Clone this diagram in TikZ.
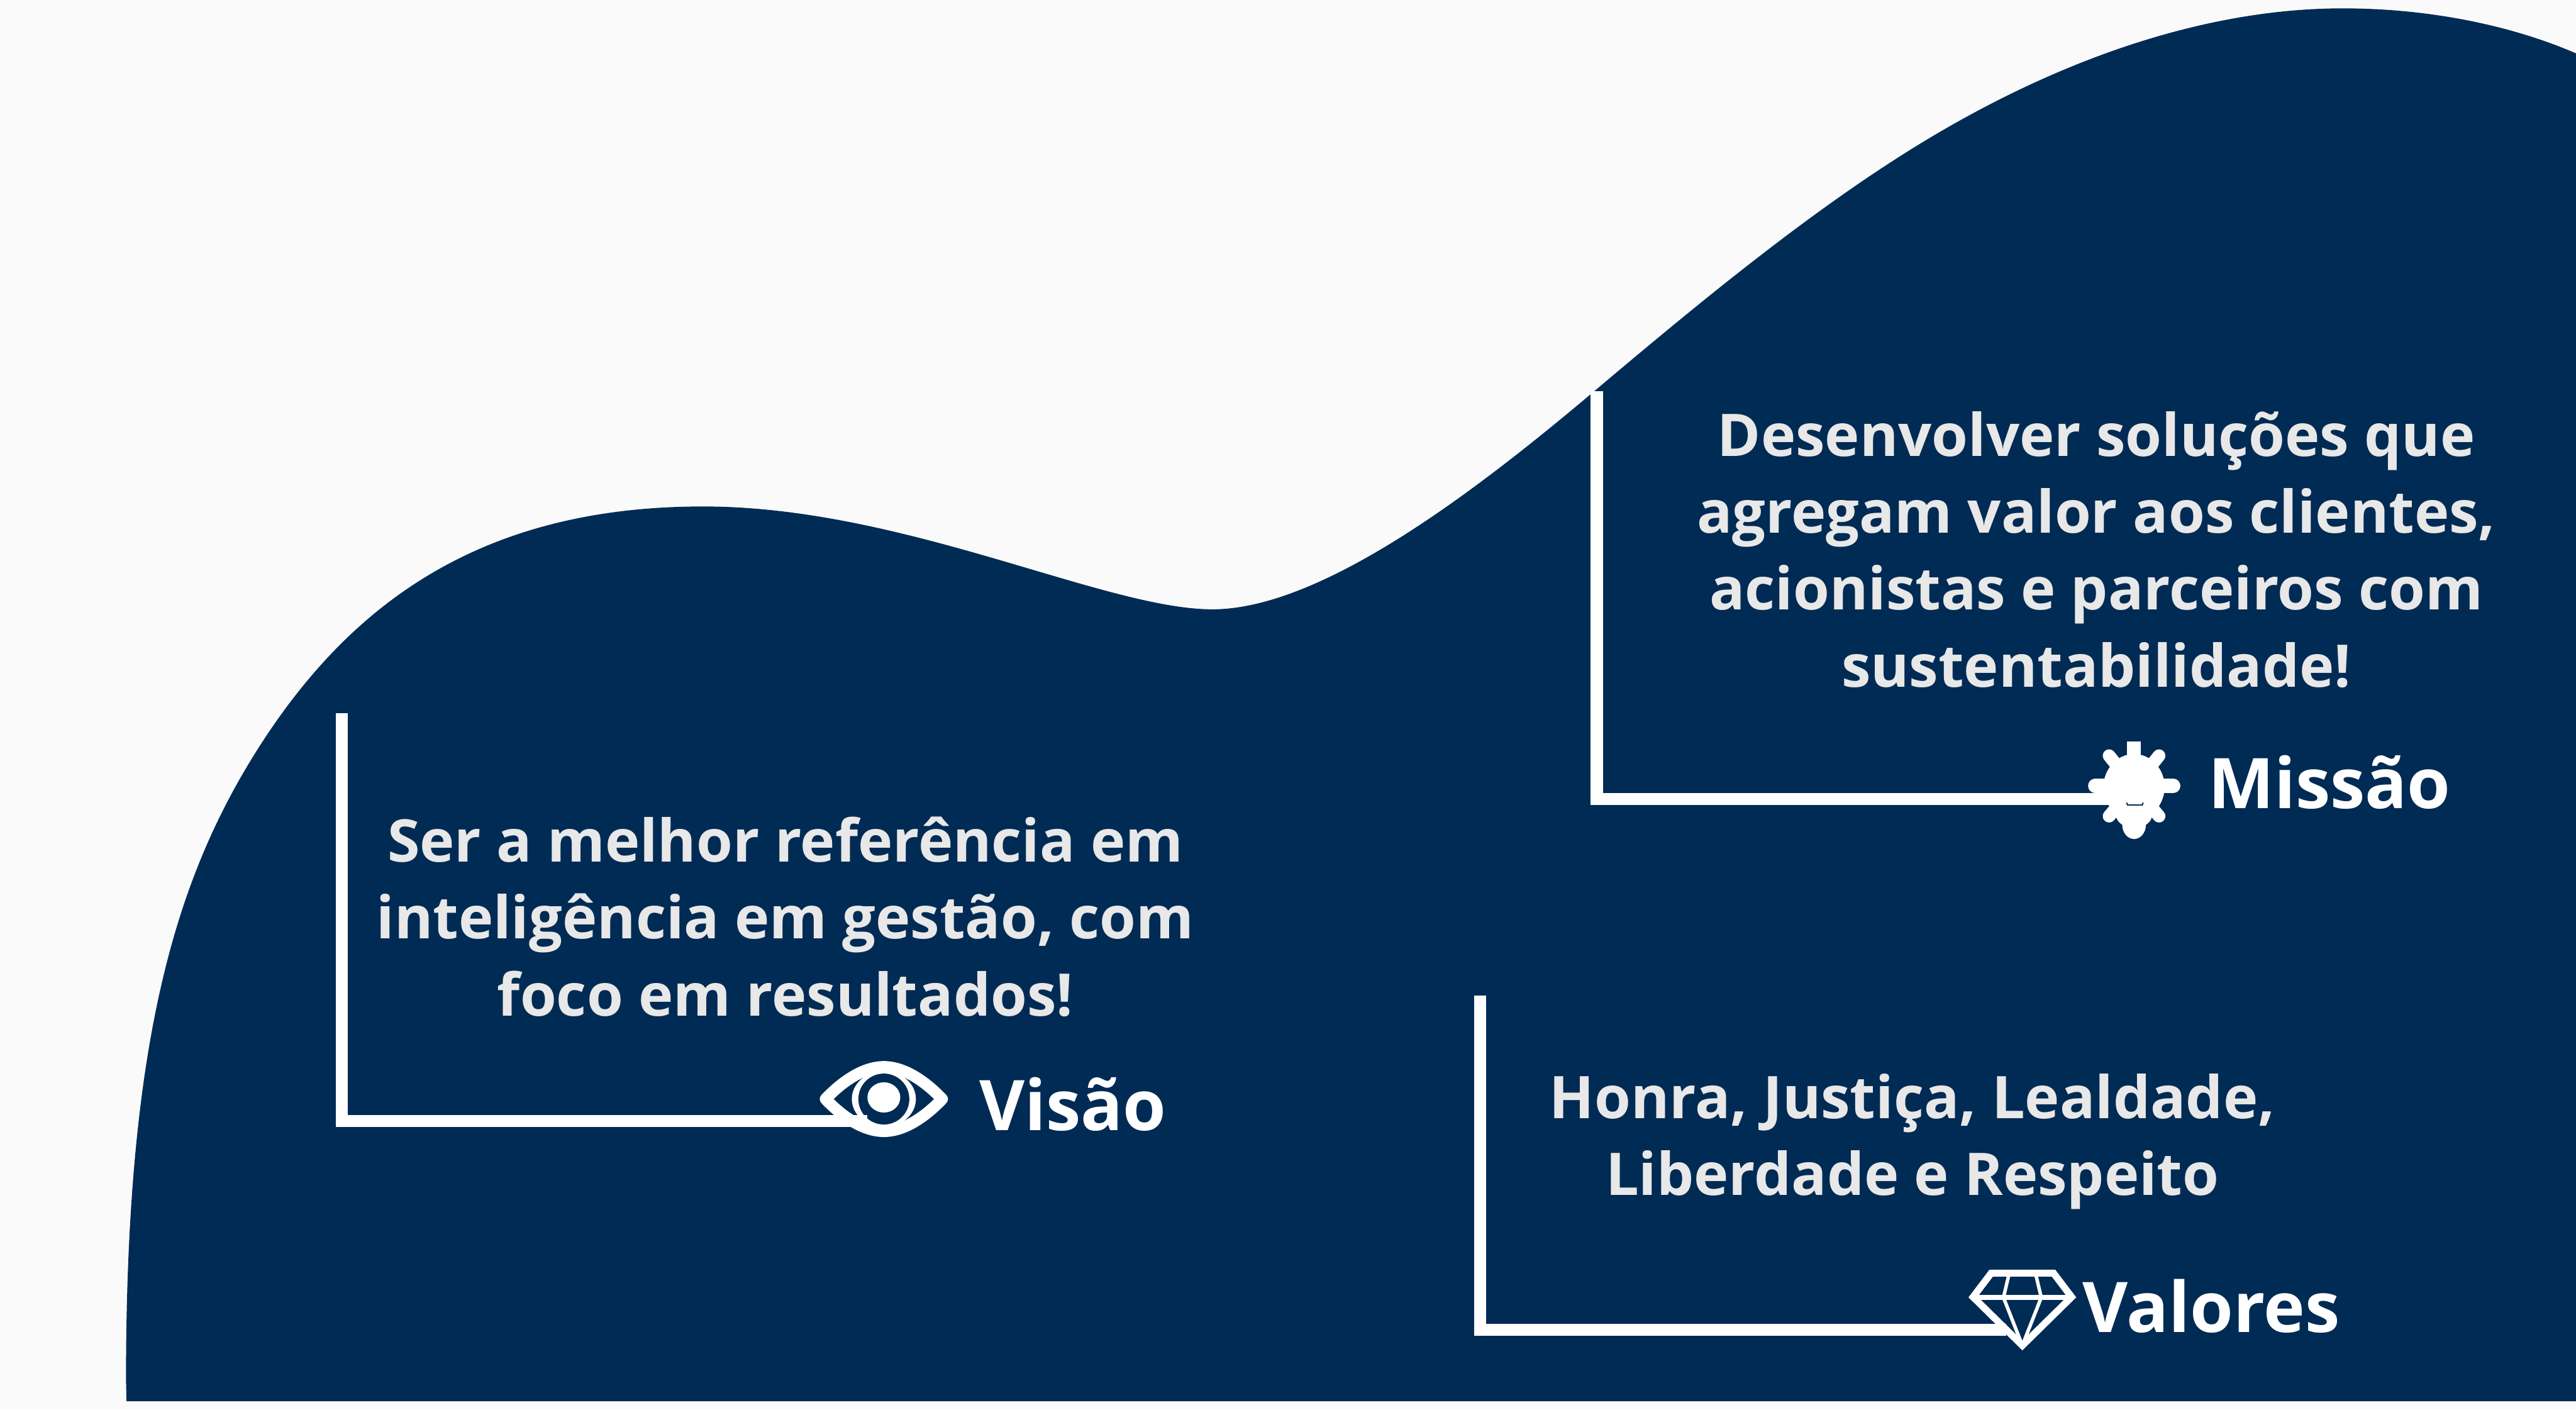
\documentclass[tikz,border=0pt]{standalone}
\usepackage{fontspec}
\usepackage{tikz}
\usetikzlibrary{positioning}
\setmainfont{Open Sans}
\definecolor{mnavy}{HTML}{002B54}
\definecolor{mpaper}{HTML}{FAFAFA}
\definecolor{mtext}{HTML}{E8E8E8}
\tikzset{bodytext/.style = {text=mtext, align=center, inner sep=0pt,
                            font=\fontsize{10.18}{13.32}\selectfont\bfseries},
         titletext/.style = {text=white, anchor=base west, inner sep=0pt,
                             font=\fontsize{12.1}{16}\selectfont\bfseries},
         bracket/.style = {draw=white, line width=2.1pt, miter limit=10},
         iconline/.style = {draw=white, line join=miter}}
\begin{document}
\begin{tikzpicture}[x=0.01cm, y=-0.01cm]
    \useasboundingbox [fill=mpaper] (0, 0) rectangle (1568, 858);

    \fill [mnavy] (77, 853) -- (76.7, 840)
        .. controls (76.7, 640) and (105, 540) .. (154, 460.6)
        .. controls (210, 370) and (290, 308.3) .. (428, 308.3)
        .. controls (550, 308.3) and (672, 370.9) .. (738, 370.9)
        .. controls (805, 370.9) and (900, 297.5) .. (969.4, 239)
        .. controls (1030, 187.8) and (1092, 136.7) .. (1153, 97.4)
        .. controls (1245, 38) and (1340, 5.1) .. (1426, 5.1)
        .. controls (1480, 5.1) and (1530, 16) .. (1568, 32.5)
        -- (1568, 853) -- cycle;

    % anchors of the three brackets
    \coordinate (visaoTop) at (208, 434);
    \coordinate (visaoEnd) at (528, 682.5);
    \coordinate (missaoTop) at (972, 238);
    \coordinate (missaoEnd) at (1285, 486.5);
    \coordinate (valoresTop) at (901, 606);
    \coordinate (valoresEnd) at (1221, 809.4);

    % eye
    \draw [iconline, fill=mnavy, line width=2pt, line join=round] (502.5, 669)
        .. controls (512, 659) and (525, 649.4) .. (538, 649.4)
        .. controls (551, 649.4) and (564, 659) .. (573.5, 669)
        .. controls (564, 679) and (551, 688.6) .. (538, 688.6)
        .. controls (525, 688.6) and (512, 679) .. (502.5, 669) -- cycle;
    \fill [white] (538, 669) ellipse [x radius=19.5, y radius=17];
    \fill [mnavy] (538, 669) ellipse [x radius=15.5, y radius=15.5];
    \fill [white] (538, 668) ellipse [x radius=10, y radius=9.2];
    \draw [bracket] (visaoTop) |- (visaoEnd);

    % gear
    \draw [bracket] (missaoTop) |- (missaoEnd);
    \fill [white] (1299, 479) ellipse [x radius=18.6, y radius=20];
    \draw [white, line width=2.5pt, line cap=round] (1275.4, 478.4) -- (1322.8, 478.4);
    \draw [white, line width=2.4pt] (1299, 479) -- (1299, 451.2);
    \foreach \tipx/\tipy in {1283.8/460, 1314.2/460, 1283.8/496.8, 1314.2/496.8} {
        \draw [white, line width=2.2pt, line cap=round] (1299, 479) -- (\tipx, \tipy);
    }
    \fill [white] (1299, 496) ellipse [x radius=11, y radius=8];
    \fill [white] (1299, 502) ellipse [x radius=7.2, y radius=8.7];
    \draw [mnavy, line width=0.2pt] (1294.5, 488.5) -- (1295, 490) -- (1304, 490) -- (1304.5, 488.5);

    % diamond
    \draw [iconline, line width=1.2pt, line join=miter] (1212, 775) -- (1250, 775) -- (1261, 789.5)
        -- (1231, 819) -- (1201, 789.5) -- cycle;
    \draw [iconline, line width=0.8pt] (1201, 789.8) -- (1261, 789.8);
    \draw [iconline, line width=0.6pt] (1223, 775) -- (1219.5, 789.8) -- (1231, 819)
        -- (1242.5, 789.8) -- (1239, 775);
    \draw [bracket] (valoresTop) |- (valoresEnd);

    \node [bodytext] (visaoText) at (478, 558) {Ser a melhor referência em\\inteligência em gestão, com\\foco em resultados!};
    \node [bodytext] (missaoText) at (1276, 334.5) {Desenvolver soluções que\\agregam valor aos clientes,\\acionistas e parceiros com\\sustentabilidade!};
    \node [bodytext] (valoresText) at (1164, 695) {Honra, Justiça, Lealdade,\\Liberdade e Respeito};

    \node [titletext] (visaoTitle) at (595.5, 688) {Visão};
    \node [titletext] (missaoTitle) at (1343.5, 492) {Missão};
    \node [titletext] (valoresTitle) at (1267, 811) {Valores};
\end{tikzpicture}
\end{document}
